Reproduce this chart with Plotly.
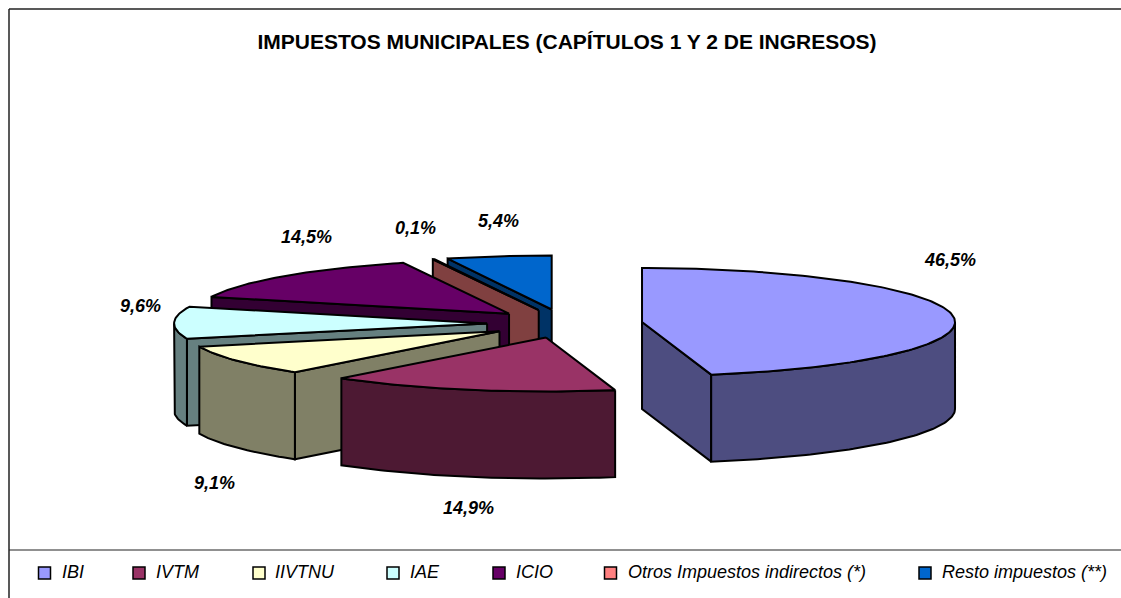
import math
import plotly.graph_objects as go

# ---- data ----
categories = ["IBI", "IVTM", "IIVTNU", "IAE", "ICIO", "Otros Impuestos indirectos (*)", "Resto impuestos (**)"]
shares = [46.5, 14.9, 9.1, 9.6, 14.5, 0.1, 5.4]
share_labels = ["46,5%", "14,9%", "9,1%", "9,6%", "14,5%", "0,1%", "5,4%"]
title_text = "IMPUESTOS MUNICIPALES (CAPÍTULOS 1 Y 2 DE INGRESOS)"

# ---- style ----
top_colors = ["#9999FF", "#993366", "#FFFFCC", "#CCFFFF", "#660066", "#FF8080", "#0066CC"]
wall_colors = ["#4D4D80", "#4D1933", "#808066", "#668080", "#330033", "#804040", "#003366"]

# ---- layout of the projected pie, in canvas units ----
W, H = 1121, 598
CX, CY = 564.8, 323.6      # centre before explosion
RX, RY = 313.0, 54.0       # ellipse radii
EX, EY = 77.7, 14.3        # explosion distance along each axis
DEPTH = 87.0
LINE = 2
label_x = [950, 468, 214, 140, 306, 415, 498]
label_y = [260, 508, 483, 306, 237, 228, 221]
legend_swatch_x = [44.5, 139, 259, 393, 499, 610.5, 925]
legend_text_x = [60, 154, 273, 408, 514, 626, 940]
legend_y = 573

fig = go.Figure()


def poly(pts, color):
    xs = [p[0] for p in pts] + [pts[0][0]]
    ys = [p[1] for p in pts] + [pts[0][1]]
    fig.add_trace(go.Scatter(x=xs, y=ys, mode="lines", fill="toself", fillcolor=color,
                             line=dict(color="black", width=LINE), showlegend=False,
                             hoverinfo="skip"))


total = sum(shares)
bounds = [0.0]
for v in shares:
    bounds.append(bounds[-1] + v / total * 360.0)


def arc(ax, ay, a0, a1, dz=0.0):
    n = max(2, int(abs(a1 - a0)) + 2)
    out = []
    for i in range(n):
        t = math.radians(a0 + (a1 - a0) * i / (n - 1))
        out.append((ax + RX * math.sin(t), ay - RY * math.cos(t) + dz))
    return out


# painter's order: back slices first, the big slice last
for i in range(len(shares) - 1, -1, -1):
    a0, a1 = bounds[i], bounds[i + 1]
    mid = math.radians((a0 + a1) / 2)
    ax = CX + EX * math.sin(mid)
    ay = CY - EY * math.cos(mid)
    # radial walls that face the viewer
    if 180 < a0 < 360:
        rim = arc(ax, ay, a0, a0)[0]
        poly([(ax, ay), rim, (rim[0], rim[1] + DEPTH), (ax, ay + DEPTH)], wall_colors[i])
    if 0 < a1 < 180:
        rim = arc(ax, ay, a1, a1)[0]
        poly([(ax, ay), rim, (rim[0], rim[1] + DEPTH), (ax, ay + DEPTH)], wall_colors[i])
    # outer curved wall, front half only
    f0, f1 = max(a0, 90), min(a1, 270)
    if f1 > f0:
        poly(arc(ax, ay, f0, f1) + arc(ax, ay, f1, f0, DEPTH), wall_colors[i])
    # top face
    poly([(ax, ay)] + arc(ax, ay, a0, a1), top_colors[i])

annotations = []
for txt, x, y in zip(share_labels, label_x, label_y):
    annotations.append(dict(x=x, y=y, xref="x", yref="y", text=txt, showarrow=False,
                            xanchor="center", yanchor="middle",
                            font=dict(family="Liberation Sans, Arial", size=18, color="black",
                                      weight="bold", style="italic")))

# legend row
fig.add_trace(go.Scatter(x=legend_swatch_x, y=[legend_y] * len(categories), mode="markers",
                         marker=dict(symbol="square", size=12, color=top_colors,
                                     line=dict(color="black", width=1.5)),
                         showlegend=False, hoverinfo="skip"))
for name, x in zip(categories, legend_text_x):
    annotations.append(dict(x=x, y=legend_y - 1, xref="x", yref="y", text=name, showarrow=False,
                            xanchor="left", yanchor="middle",
                            font=dict(family="Liberation Sans, Arial", size=18, color="black",
                                      style="italic")))

shapes = [
    dict(type="line", xref="x", yref="y", x0=9, x1=W, y0=9, y1=9, line=dict(color="#222", width=1.5)),
    dict(type="line", xref="x", yref="y", x0=9, x1=9, y0=9, y1=H, line=dict(color="#222", width=1.5)),
    dict(type="line", xref="x", yref="y", x0=9, x1=W, y0=550, y1=550, line=dict(color="#222", width=1.2)),
]

fig.update_layout(
    width=W, height=H, margin=dict(l=0, r=0, t=0, b=0),
    paper_bgcolor="white", plot_bgcolor="white", showlegend=False,
    title=dict(text="<b>" + title_text + "</b>", x=567 / W, xanchor="center", y=1 - 42 / H, yanchor="middle",
               font=dict(family="Liberation Sans, Arial", size=21, color="black")),
    xaxis=dict(range=[0, W], visible=False, fixedrange=True),
    yaxis=dict(range=[H, 0], visible=False, fixedrange=True),
    annotations=annotations, shapes=shapes,
)
fig.write_html("out.html", config={"displayModeBar": False},
               post_script="document.body.style.margin='0';document.body.style.overflow='hidden';")
